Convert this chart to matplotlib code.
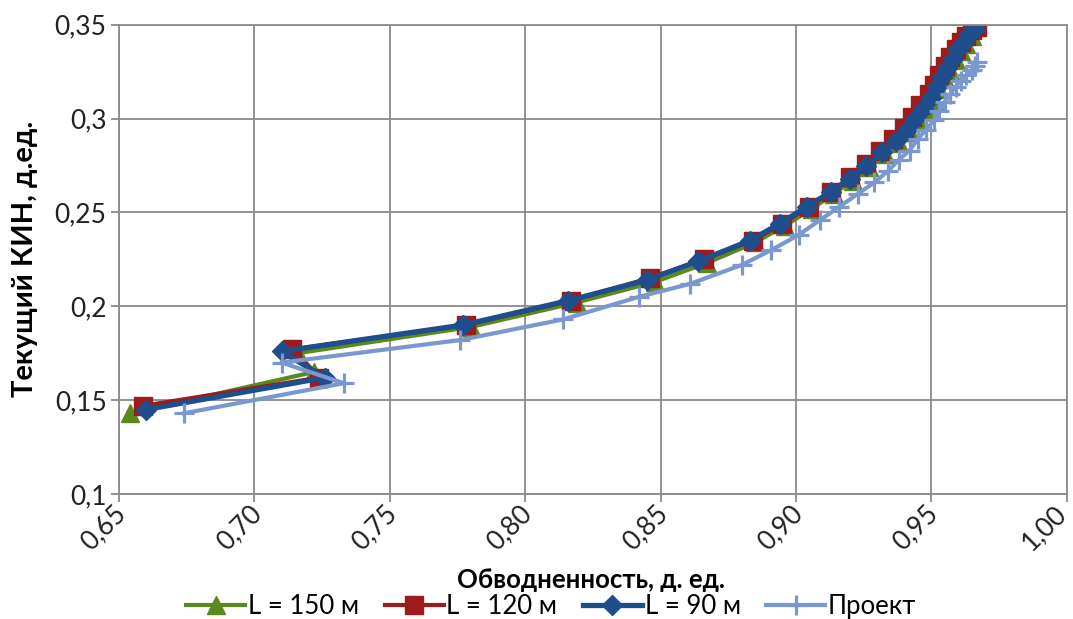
import matplotlib.pyplot as plt
from matplotlib.ticker import FixedLocator
import matplotlib.transforms as mtransforms

plt.rcParams['font.family'] = ['Lato', 'DejaVu Sans']

# L = 150 m
x150 = [0.654, 0.722, 0.716, 0.780, 0.819, 0.848, 0.867, 0.885, 0.896, 0.906,
        0.914, 0.921, 0.927, 0.933, 0.938, 0.942, 0.945, 0.948, 0.951, 0.953,
        0.955, 0.957, 0.959, 0.961, 0.963, 0.965]
y150 = [0.143, 0.165, 0.175, 0.189, 0.202, 0.213, 0.223, 0.234, 0.243, 0.252,
        0.260, 0.267, 0.274, 0.281, 0.287, 0.293, 0.299, 0.305, 0.310, 0.316,
        0.321, 0.326, 0.331, 0.336, 0.340, 0.344]

# L = 120 m
x120 = [0.659, 0.724, 0.714, 0.778, 0.817, 0.846, 0.866, 0.884, 0.895, 0.905,
        0.913, 0.920, 0.926, 0.931, 0.936, 0.940, 0.943, 0.946, 0.949, 0.951,
        0.953, 0.955, 0.957, 0.959, 0.961, 0.963, 0.965, 0.967]
y120 = [0.147, 0.162, 0.177, 0.190, 0.203, 0.215, 0.225, 0.235, 0.244, 0.253,
        0.261, 0.269, 0.276, 0.283, 0.289, 0.295, 0.301, 0.307, 0.313, 0.318,
        0.323, 0.328, 0.333, 0.337, 0.341, 0.344, 0.347, 0.349]

# L = 90 m
x90 = [0.660, 0.726, 0.710, 0.777, 0.816, 0.845, 0.864, 0.883, 0.894, 0.904,
       0.913, 0.920, 0.926, 0.932, 0.937, 0.941, 0.944, 0.947, 0.950, 0.952,
       0.954, 0.956, 0.958, 0.960, 0.962, 0.964, 0.966]
y90 = [0.145, 0.162, 0.176, 0.190, 0.203, 0.214, 0.224, 0.235, 0.244, 0.253,
       0.261, 0.268, 0.275, 0.282, 0.288, 0.294, 0.300, 0.305, 0.311, 0.317,
       0.322, 0.327, 0.332, 0.337, 0.341, 0.345, 0.348]

# Проект
xpr = [0.674, 0.733, 0.710, 0.776, 0.814, 0.842, 0.861, 0.880, 0.891, 0.901,
       0.909, 0.916, 0.923, 0.929, 0.934, 0.938, 0.942, 0.945, 0.948, 0.951,
       0.953, 0.955, 0.957, 0.959, 0.961, 0.963, 0.965, 0.966, 0.967]
ypr = [0.143, 0.159, 0.170, 0.182, 0.193, 0.205, 0.212, 0.222, 0.230, 0.238,
       0.246, 0.253, 0.260, 0.266, 0.272, 0.278, 0.283, 0.289, 0.294, 0.299,
       0.304, 0.309, 0.313, 0.317, 0.320, 0.323, 0.326, 0.328, 0.330]

xticks = [0.65, 0.70, 0.75, 0.80, 0.85, 0.90, 0.95, 1.00]
xticklabels = ['0,65', '0,70', '0,75', '0,80', '0,85', '0,90', '0,95', '1,00']
yticks = [0.1, 0.15, 0.2, 0.25, 0.3, 0.35]
yticklabels = ['0,1', '0,15', '0,2', '0,25', '0,3', '0,35']

fig = plt.figure(figsize=(10.73, 6.19), dpi=100)
ax = fig.add_axes([0.111, 0.202, 0.883, 0.758])

ax.plot(x150, y150, color='#5a8a1e', lw=3, marker='^', ms=13, label='L = 150 м')
ax.plot(x120, y120, color='#9e1b1b', lw=3, marker='s', ms=13, label='L = 120 м')
ax.plot(x90, y90, color='#1f4e8d', lw=3.8, marker='D', ms=10, label='L = 90 м')
ax.plot(xpr, ypr, color='#7a98cf', lw=3, marker='+', ms=15, mew=2.3, label='Проект')

ax.set_xlim(0.65, 1.0)
ax.set_ylim(0.1, 0.35)
ax.xaxis.set_major_locator(FixedLocator(xticks))
ax.yaxis.set_major_locator(FixedLocator(yticks))
ax.tick_params(colors='#8a8a8a', labelcolor='#222222', length=6, width=1.3, pad=3)
ax.set_xticklabels(xticklabels, rotation=45, ha='right', va='center',
                   rotation_mode='anchor', fontsize=19)
ax.set_yticklabels(yticklabels, fontsize=19)
labs = ax.get_xticklabels()
for i, lab in enumerate(labs):
    dx = -4 if i == len(labs) - 1 else 3
    shift = mtransforms.ScaledTranslation(dx / 100, -3 / 100, fig.dpi_scale_trans)
    lab.set_transform(lab.get_transform() + shift)
ax.grid(True, color='#8a8a8a', lw=1.3)
for s in ax.spines.values():
    s.set_color('#8a8a8a')
    s.set_linewidth(1.3)

ax.set_xlabel('Обводненность, д. ед.', fontsize=18.5, fontweight='bold', va='center')
ax.xaxis.set_label_coords(0.498, -0.183)
ax.set_ylabel('Текущий КИН, д.ед.', fontsize=21, fontweight='bold', va='center')
ax.yaxis.set_label_coords(-0.099, 0.5)

ax.legend(loc='center', bbox_to_anchor=(0.456, -0.239), ncol=4, frameon=False,
          fontsize=18.5, numpoints=1, handlelength=2.3, handletextpad=0.1,
          columnspacing=1.0, borderaxespad=0, borderpad=0)

fig.savefig('out.png', dpi=100)
